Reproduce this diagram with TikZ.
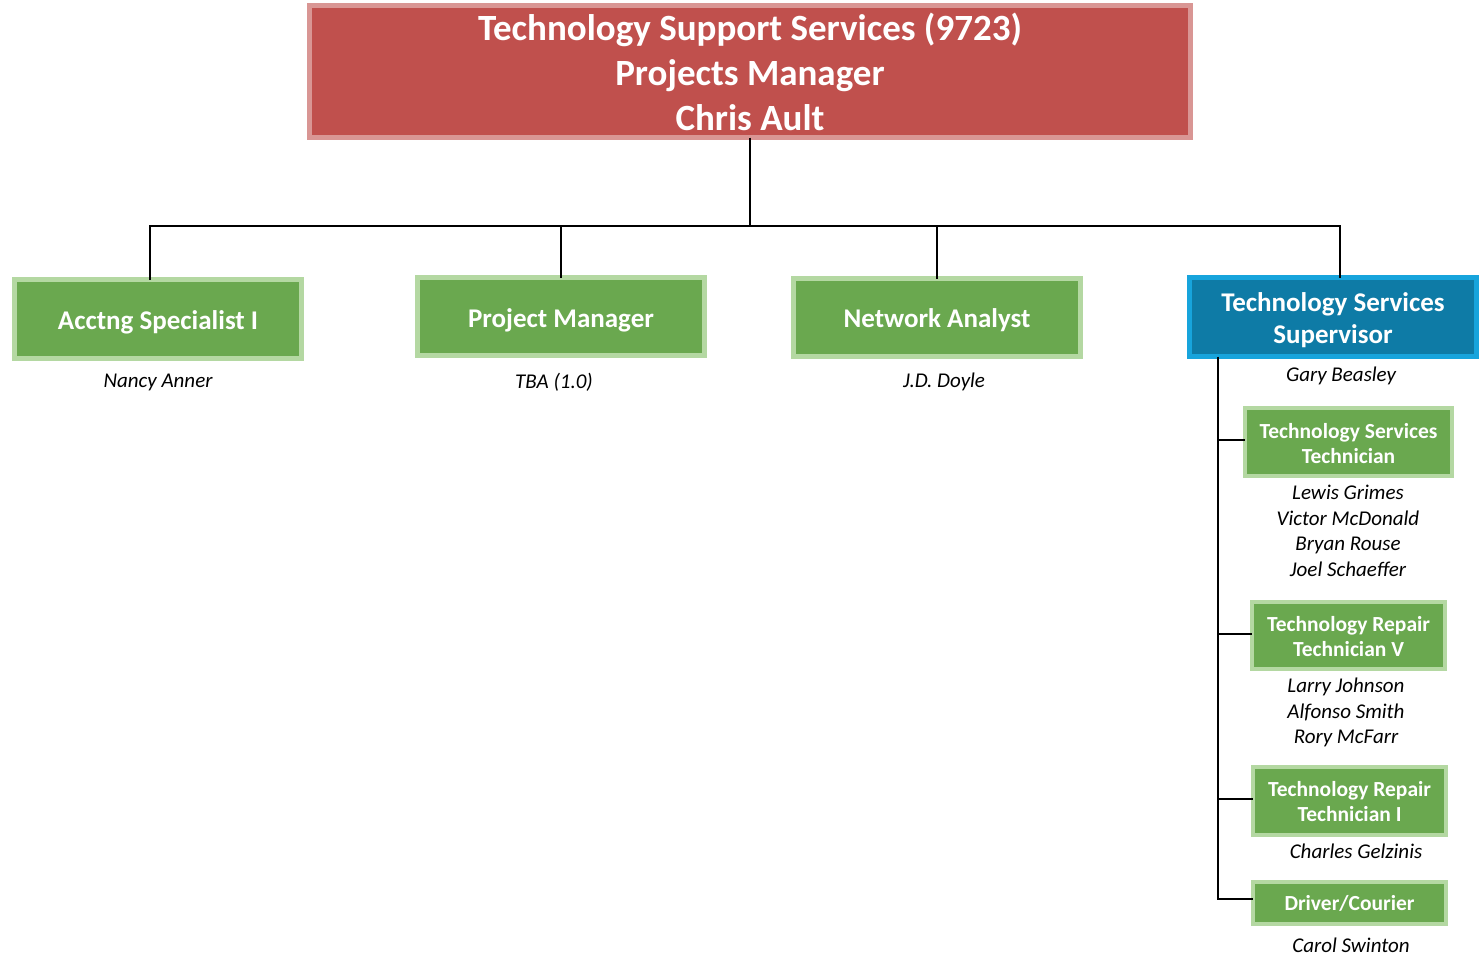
\documentclass[tikz,border=0pt]{standalone}
\usepackage{fontspec}
\setmainfont{Carlito}
\definecolor{rfill}{HTML}{C0504D}
\definecolor{rline}{HTML}{D99694}
\definecolor{gfill}{HTML}{6AA84F}
\definecolor{gline}{HTML}{B4D8A2}
\definecolor{bfill}{HTML}{0E7BA6}
\definecolor{bline}{HTML}{17A4DC}
\newcommand\lowertext[2]{\raisebox{-#1}[\height][\depth]{\begin{tabular}{@{}c@{}}#2\end{tabular}}}
\tikzset{
  box/.style={draw, line width=5pt, inner sep=0pt, outer sep=0pt, text=white, align=center},
  redbox/.style={box, fill=rfill, draw=rline, font=\fontsize{37}{45}\selectfont\bfseries},
  bigbox/.style={box, fill=gfill, draw=gline, minimum width=287pt, minimum height=78pt, font=\fontsize{27}{32}\selectfont\bfseries},
  bluebox/.style={bigbox, fill=bfill, draw=bline},
  smallbox/.style={box, fill=gfill, draw=gline, line width=4pt, font=\fontsize{21.5}{25}\selectfont\bfseries},
  person/.style={inner sep=0pt, align=center, font=\fontsize{21}{25.5}\selectfont\itshape},
  conn/.style={line width=1.8pt, black}
}
\begin{document}
\begin{tikzpicture}[x=1pt,y=-1pt]
\useasboundingbox (0,0) rectangle (1479,964);
\node[redbox, minimum width=881pt, minimum height=132pt] (top) at (750,71.5)
  {Technology Support Services (9723)\\Projects Manager\\Chris Ault};
\node[bigbox, minimum height=79pt] (acct) at (158,319) {\lowertext{4pt}{Acctng Specialist I}};
\node[bigbox] (pm) at (561,316.5) {\lowertext{4.5pt}{Project Manager}};
\node[bigbox] (na) at (937,317.5) {\lowertext{4pt}{Network Analyst}};
\node[bluebox, minimum height=79pt] (sup) at (1333,317) {\lowertext{4pt}{Technology Services\\Supervisor}};
\node[smallbox, minimum width=207pt, minimum height=68pt] (tst) at (1348.5,442) {\lowertext{4pt}{Technology Services\\Technician}};
\node[smallbox, minimum width=193pt, minimum height=67pt] (trv) at (1348.5,635.5) {\lowertext{3pt}{Technology Repair\\Technician V}};
\node[smallbox, minimum width=193pt, minimum height=68pt] (tri) at (1349.5,801) {\lowertext{3pt}{Technology Repair\\Technician I}};
\node[smallbox, minimum width=193pt, minimum height=42pt] (dc) at (1349.5,903) {Driver/Courier};

\node[person] (n1) at (158,382) {Nancy Anner};
\node[person] (n2) at (554,382) {TBA (1.0)};
\node[person] (n3) at (944,382) {J.D. Doyle};
\node[person] (n4) at (1341,376) {Gary Beasley};
\node[person, anchor=north] (n5) at (1348,485) {Lewis Grimes\\Victor McDonald\\Bryan Rouse\\Joel Schaeffer};
\node[person, anchor=north] (n6) at (1346,678) {Larry Johnson\\Alfonso Smith\\Rory McFarr};
\node[person] (n7) at (1356,851) {Charles Gelzinis};
\node[person] (n8) at (1351,945) {Carol Swinton};

\coordinate (bus) at (750,226);
\coordinate (spine) at (1218,0);
\draw[conn] (top.south) -- (bus);
\draw[conn] ([xshift=-8pt]acct.north) |- (bus) -| ([xshift=7pt]sup.north);
\draw[conn] (pm.north) -- (pm.north |- bus);
\draw[conn] (na.north) -- (na.north |- bus);
\draw[conn] (sup.south -| spine) |- ([yshift=4pt]dc.west);
\draw[conn] ([yshift=2pt]spine |- tst.west) -- ([yshift=2pt]tst.west);
\draw[conn] ([yshift=1.5pt]spine |- trv.west) -- ([yshift=1.5pt]trv.west);
\draw[conn] ([yshift=2pt]spine |- tri.west) -- ([yshift=2pt]tri.west);
\end{tikzpicture}
\end{document}
